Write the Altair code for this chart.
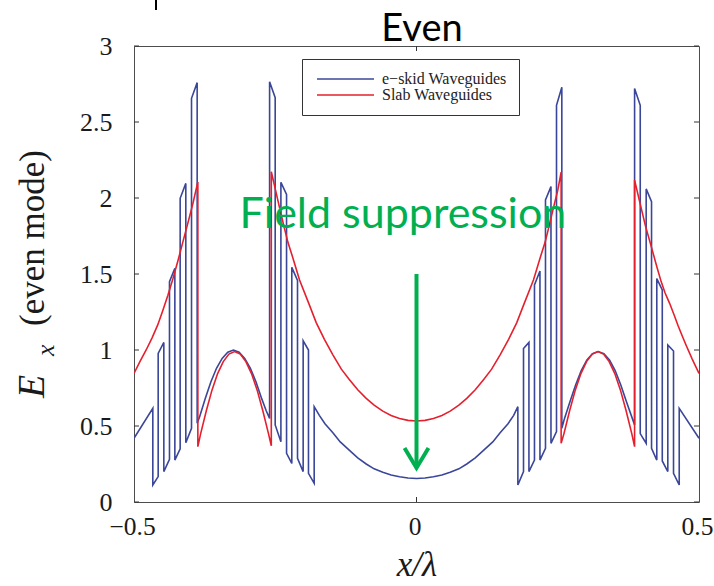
import altair as alt
import pandas as pd

# ---------------- data ----------------
blue_name = "e\u2212skid Waveguides"
red_name = "Slab Waveguides"

# e-skid (blue) curve, left to right, in segments
blue_x_outer_l = [-0.5, -0.4667, -0.4667, -0.4572, -0.4572, -0.4472, -0.4472, -0.4372, -0.4372,
                  -0.4277, -0.4277, -0.4183, -0.4183, -0.4083, -0.4083, -0.3982, -0.3982, -0.3882]
blue_y_outer_l = [0.419, 0.616, 0.112, 0.167, 0.978, 1.050, 0.200, 0.281, 1.450,
                  1.537, 0.276, 0.350, 1.998, 2.096, 0.390, 0.485, 2.656, 2.759]
blue_x_core_l = [-0.3882, -0.384, -0.374, -0.364, -0.354, -0.344, -0.334, -0.324,
                 -0.314, -0.304, -0.294, -0.284, -0.274, -0.266, -0.260]
blue_y_core_l = [0.518, 0.56, 0.68, 0.79, 0.88, 0.945, 0.985, 1.0,
                 0.985, 0.945, 0.88, 0.79, 0.68, 0.60, 0.55]
blue_x_inner_l = [-0.260, -0.2501, -0.2501, -0.240, -0.240, -0.230, -0.230, -0.2207, -0.2207,
                  -0.2106, -0.2106, -0.2006, -0.2006, -0.1912, -0.1912, -0.1811, -0.1811]
blue_y_inner_l = [2.765, 2.660, 0.507, 0.397, 2.103, 2.024, 0.320, 0.254, 1.544,
                  1.458, 0.287, 0.200, 1.061, 1.000, 0.189, 0.123, 0.627]
blue_x_gap = [-0.172, -0.162, -0.148, -0.135, -0.1186, -0.104, -0.089, -0.075, -0.0596, -0.045,
              -0.030, -0.015, 0.0, 0.015, 0.030, 0.045, 0.0596, 0.075, 0.089, 0.104, 0.1186,
              0.135, 0.148, 0.162, 0.172, 0.1794]
blue_y_gap = [0.57, 0.515, 0.455, 0.395, 0.340, 0.290, 0.250, 0.218, 0.195, 0.178,
              0.166, 0.158, 0.155, 0.158, 0.166, 0.178, 0.195, 0.218, 0.250, 0.290, 0.340,
              0.395, 0.455, 0.515, 0.57, 0.627]
blue_x_inner_r = [0.1794, 0.1894, 0.1894, 0.199, 0.199, 0.2088, 0.2088, 0.2185, 0.2185,
                  0.2283, 0.2283, 0.238, 0.238, 0.2478, 0.2478, 0.2572]
blue_y_inner_r = [0.112, 0.200, 1.010, 1.050, 0.200, 0.276, 1.428, 1.520, 0.276,
                  0.353, 1.987, 2.075, 0.386, 0.463, 2.610, 2.728]
blue_x_core_r = [0.2572, 0.262, 0.2716, 0.2816, 0.2916, 0.3016, 0.3116, 0.3216,
                 0.3316, 0.3416, 0.3516, 0.3616, 0.3716, 0.381, 0.386]
blue_y_core_r = [0.485, 0.55, 0.66, 0.77, 0.865, 0.935, 0.975, 0.99,
                 0.975, 0.935, 0.865, 0.77, 0.66, 0.56, 0.507]
blue_x_outer_r = [0.386, 0.396, 0.396, 0.4065, 0.4065, 0.416, 0.416, 0.4253, 0.4253, 0.435, 0.435,
                  0.4448, 0.4448, 0.4549, 0.4549, 0.465, 0.465, 0.5]
blue_y_outer_r = [2.720, 2.610, 0.450, 0.386, 2.060, 1.976, 0.353, 0.276, 1.470, 1.395, 0.270,
                  0.200, 1.033, 0.993, 0.189, 0.112, 0.616, 0.419]

# slab (red) curve, left to right, in segments
red_x_outer_l = [-0.5, -0.49, -0.4785, -0.468, -0.458, -0.449, -0.44, -0.431, -0.422,
                 -0.4136, -0.405, -0.396, -0.387]
red_y_outer_l = [0.846, 0.92, 1.0, 1.08, 1.165, 1.26, 1.36, 1.47, 1.59,
                 1.71, 1.83, 1.96, 2.105]
red_x_core_l = [-0.387, -0.382, -0.372, -0.362, -0.352, -0.342, -0.332, -0.322,
                -0.312, -0.302, -0.292, -0.282, -0.272, -0.262, -0.257]
red_y_core_l = [0.364, 0.45, 0.60, 0.736, 0.845, 0.924, 0.973, 0.99,
                0.973, 0.924, 0.845, 0.736, 0.60, 0.45, 0.37]
red_x_gap = [-0.257, -0.25, -0.242, -0.235, -0.2277, -0.22, -0.207, -0.19, -0.1775, -0.163,
             -0.148, -0.133, -0.1186, -0.104, -0.089, -0.075, -0.0596, -0.045, -0.030, -0.015,
             0.0, 0.015, 0.030, 0.045, 0.0596, 0.075, 0.089, 0.104, 0.1186, 0.133, 0.148,
             0.163, 0.1775, 0.19, 0.207, 0.22, 0.2277, 0.235, 0.242, 0.25, 0.256]
red_y_gap = [2.173, 2.06, 1.93, 1.82, 1.71, 1.62, 1.46, 1.30, 1.18, 1.07,
             0.968, 0.874, 0.805, 0.738, 0.682, 0.637, 0.598, 0.569, 0.549, 0.537,
             0.533, 0.537, 0.549, 0.569, 0.598, 0.637, 0.682, 0.738, 0.805, 0.874, 0.968,
             1.07, 1.18, 1.30, 1.46, 1.62, 1.71, 1.82, 1.93, 2.05, 2.17]
red_x_core_r = [0.256, 0.261, 0.271, 0.281, 0.291, 0.301, 0.311, 0.321,
                0.331, 0.341, 0.351, 0.361, 0.371, 0.381, 0.386]
red_y_core_r = [0.386, 0.45, 0.60, 0.736, 0.845, 0.924, 0.973, 0.99,
                0.973, 0.924, 0.845, 0.736, 0.60, 0.45, 0.364]
red_x_outer_r = [0.386, 0.396, 0.405, 0.418, 0.426, 0.433, 0.44, 0.448, 0.456, 0.463,
                 0.47, 0.477, 0.488, 0.5]
red_y_outer_r = [2.118, 1.96, 1.82, 1.647, 1.54, 1.45, 1.375, 1.307, 1.23, 1.16,
                 1.095, 1.033, 0.94, 0.846]

x_ticks = [-0.5, 0.0, 0.5]
y_ticks = [0, 0.5, 1, 1.5, 2, 2.5, 3]

# annotation: text and arrow (data coordinates)
note_text = ["Field suppression"]
note_x = [-0.024]
note_y = [1.803]
arrow_part = ["shaft", "shaft", "head", "head", "head"]
arrow_x = [0.0, 0.0, -0.0212, 0.0, 0.0212]
arrow_y = [1.50, 0.224, 0.355, 0.224, 0.355]

# ---------------- styles ----------------
BLUE = "#3a4799"
RED = "#e5202e"
GREEN = "#00b050"
SERIF = "Liberation Serif"
W, H = 565, 456

blue_x = (blue_x_outer_l + blue_x_core_l + blue_x_inner_l + blue_x_gap
          + blue_x_inner_r + blue_x_core_r + blue_x_outer_r)
blue_y = (blue_y_outer_l + blue_y_core_l + blue_y_inner_l + blue_y_gap
          + blue_y_inner_r + blue_y_core_r + blue_y_outer_r)
red_x = red_x_outer_l + red_x_core_l + red_x_gap + red_x_core_r + red_x_outer_r
red_y = red_y_outer_l + red_y_core_l + red_y_gap + red_y_core_r + red_y_outer_r

blue_df = pd.DataFrame({"x": blue_x, "y": blue_y, "series": blue_name, "idx": range(len(blue_x))})
red_df = pd.DataFrame({"x": red_x, "y": red_y, "series": red_name, "idx": range(len(red_x))})
note_df = pd.DataFrame({"x": note_x, "y": note_y, "t": note_text})
arrow_df = pd.DataFrame({"x": arrow_x, "y": arrow_y, "part": arrow_part, "idx": range(len(arrow_x))})
ytick_df = pd.DataFrame({"x": [-0.5] * len(y_ticks), "y": y_ticks})
xtick_df = pd.DataFrame({"x": [0.0], "y": [0.0]})
one = pd.DataFrame({"a": [0]})

xs = alt.Scale(domain=[-0.5, 0.5], nice=False, zero=False)
ys = alt.Scale(domain=[0, 3], nice=False, zero=False)
cs = alt.Scale(domain=[blue_name, red_name], range=[BLUE, RED])

legend = alt.Legend(
    orient="none", legendX=168, legendY=13, title=None,
    symbolType="M-1,0H10.4", symbolSize=100, symbolStrokeWidth=1.6,
    labelFont=SERIF, labelFontSize=16, labelColor="#222", labelOffset=52,
    padding=12, rowPadding=0, strokeColor="#333", fillColor="white",
)

x_axis = alt.Axis(
    values=x_ticks, format="~g", labelFont=SERIF, labelFontSize=25.5, labelColor="#1a1a1a",
    labelPadding=12, labelFlush=False, labelOffset=-2, ticks=False, tickSize=0,
    domain=False, grid=False,
    title="x/\u03bb", titleFont=SERIF, titleFontStyle="italic", titleFontWeight="normal",
    titleFontSize=35, titleColor="#1a1a1a", titlePadding=8,
)
y_axis = alt.Axis(
    values=y_ticks, format="~g", labelFont=SERIF, labelFontSize=26, labelColor="#1a1a1a",
    labelPadding=22, labelFlush=False, ticks=False, tickSize=0, domain=False, grid=False,
    title=None,
)

X = alt.X("x:Q", scale=xs, axis=x_axis)
Y = alt.Y("y:Q", scale=ys, axis=y_axis)

blue_line = alt.Chart(blue_df).mark_line(strokeWidth=1.6, clip=True).encode(
    x=X, y=Y,
    color=alt.Color("series:N", scale=cs, legend=legend),
    order="idx:Q",
)
red_line = alt.Chart(red_df).mark_line(strokeWidth=1.6, clip=True).encode(
    x=X, y=Y,
    color=alt.Color("series:N", scale=cs, legend=legend),
    order="idx:Q",
)
arrow = alt.Chart(arrow_df).mark_line(strokeWidth=4, color=GREEN, strokeJoin="miter").encode(
    x=X, y=Y, detail="part:N", order="idx:Q",
)
note = alt.Chart(note_df).mark_text(
    font="Lato", fontSize=43, color=GREEN, align="center", baseline="alphabetic"
).encode(x=X, y=Y, text="t:N")

# inward ticks on all four sides
ytick_l = alt.Chart(ytick_df).mark_rule(color="#333", strokeWidth=1).encode(
    y=Y, x=alt.value(0), x2=alt.value(5))
ytick_r = alt.Chart(ytick_df).mark_rule(color="#333", strokeWidth=1).encode(
    y=Y, x=alt.value(W - 5), x2=alt.value(W))
xtick_b = alt.Chart(xtick_df).mark_rule(color="#333", strokeWidth=1).encode(
    x=X, y=alt.value(H), y2=alt.value(H - 5))
xtick_t = alt.Chart(xtick_df).mark_rule(color="#333", strokeWidth=1).encode(
    x=X, y=alt.value(0), y2=alt.value(5))

# titles as text
title_even = alt.Chart(one).mark_text(
    font="Lato", fontSize=38, color="black", align="center", baseline="alphabetic"
).encode(x=alt.value(288), y=alt.value(-5), text=alt.value("Even"))
ylab_E = alt.Chart(one).mark_text(
    font=SERIF, fontSize=38, fontStyle="italic", color="#1a1a1a", align="left",
    baseline="alphabetic", angle=270
).encode(x=alt.value(-90), y=alt.value(352), text=alt.value("E"))
ylab_x = alt.Chart(one).mark_text(
    font=SERIF, fontSize=26, fontStyle="italic", color="#1a1a1a", align="left",
    baseline="alphabetic", angle=270
).encode(x=alt.value(-80), y=alt.value(310), text=alt.value("x"))
ylab_rest = alt.Chart(one).mark_text(
    font=SERIF, fontSize=35, color="#1a1a1a", align="left",
    baseline="alphabetic", angle=270
).encode(x=alt.value(-90), y=alt.value(280), text=alt.value("(even mode)"))
stray = alt.Chart(one).mark_rule(color="black", strokeWidth=2).encode(
    x=alt.value(22), y=alt.value(-46), y2=alt.value(-36))

chart = alt.layer(
    blue_line, red_line, arrow, note, ytick_l, ytick_r, xtick_b, xtick_t,
    title_even, ylab_E, ylab_x, ylab_rest, stray,
).properties(
    width=W, height=H,
    autosize=alt.AutoSizeParams(type="none"),
    padding={"left": 134, "top": 46, "right": 15, "bottom": 84},
    background="white",
).configure_view(stroke="#4d4d4d", strokeWidth=1)

chart.save("out.html", embed_options={"renderer": "svg", "actions": False})
